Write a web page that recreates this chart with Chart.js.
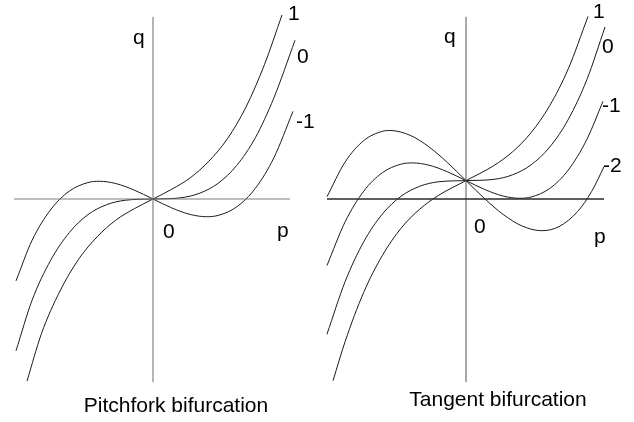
<!DOCTYPE html>
<html>
<head>
<meta charset="utf-8">
<script src="https://cdn.jsdelivr.net/npm/chart.js@4.4.0/dist/chart.umd.min.js"></script>
<style>
  html, body { margin: 0; padding: 0; background: #fff; }
  #wrap { position: relative; width: 634px; height: 422px; }
  .panel { position: absolute; top: 0; width: 317px; height: 422px; }
</style>
</head>
<body>
<div id="wrap">
  <div class="panel" style="left:0"><canvas id="pitchfork" width="317" height="422"></canvas></div>
  <div class="panel" style="left:317px"><canvas id="tangent" width="317" height="422"></canvas></div>
</div>
<script>
// ---- Pitchfork panel: q against p for parameter 1, 0, -1 ----
const pitchP1 = [-1.355, -1.2, -1.0, -0.8, -0.6, -0.4, -0.2, 0, 0.2, 0.4, 0.6, 0.8, 1.0, 1.2, 1.387];
const pitchQ1 = [-3.96, -2.93, -2.0, -1.31, -0.82, -0.46, -0.21, 0, 0.21, 0.46, 0.82, 1.31, 2.0, 2.93, 4.0];

const pitchP0 = [-1.473, -1.3, -1.1, -0.9, -0.7, -0.5, -0.3, 0, 0.3, 0.5, 0.7, 0.9, 1.1, 1.3, 1.527];
const pitchQ0 = [-3.3, -2.2, -1.33, -0.73, -0.34, -0.125, -0.027, 0, 0.027, 0.125, 0.34, 0.73, 1.33, 2.2, 3.45];

const pitchPm1 = [-1.473, -1.3, -1.1, -0.9, -0.7, -0.577, -0.4, -0.2, 0, 0.2, 0.4, 0.577, 0.7, 0.9, 1.1, 1.3, 1.505];
const pitchQm1 = [-1.78, -0.897, -0.231, 0.171, 0.357, 0.385, 0.336, 0.192, 0, -0.192, -0.336, -0.385, -0.357, -0.171, 0.231, 0.897, 1.904];

const pitchAxisP = [-1.495, 1.473];
const pitchAxisQ = [-3.98, 3.96];

// ---- Tangent panel: parameter 1, 0, -1, -2 ----
const tanP1 = [-1.43, -1.3, -1.1, -0.9, -0.7, -0.5, -0.3, 0, 0.3, 0.5, 0.7, 0.9, 1.1, 1.312];
const tanQ1 = [-3.95, -3.1, -2.03, -1.23, -0.64, -0.225, 0.073, 0.4, 0.727, 1.025, 1.443, 2.029, 2.831, 3.97];

const tanP0 = [-1.495, -1.3, -1.1, -0.9, -0.7, -0.5, -0.3, 0, 0.3, 0.5, 0.7, 0.9, 1.1, 1.3, 1.495];
const tanQ0 = [-2.94, -1.797, -0.931, -0.329, 0.057, 0.275, 0.373, 0.4, 0.427, 0.525, 0.743, 1.129, 1.731, 2.597, 3.74];

const tanPm1 = [-1.495, -1.3, -1.1, -0.9, -0.7, -0.577, -0.4, -0.2, 0, 0.2, 0.4, 0.577, 0.7, 0.9, 1.1, 1.3, 1.473];
const tanQm1 = [-1.446, -0.497, 0.169, 0.571, 0.757, 0.785, 0.736, 0.592, 0.4, 0.208, 0.064, 0.015, 0.043, 0.229, 0.631, 1.297, 2.123];

const tanPm2 = [-1.495, -1.3, -1.1, -0.9, -0.816, -0.6, -0.4, -0.2, 0, 0.2, 0.4, 0.6, 0.816, 1.0, 1.2, 1.35, 1.484];
const tanQm2 = [0.049, 0.803, 1.269, 1.471, 1.489, 1.384, 1.136, 0.792, 0.4, 0.008, -0.336, -0.584, -0.689, -0.6, -0.272, 0.16, 0.7];

const tanAxisP = [-1.495, 1.484];
const tanAxisQ = [-3.98, 3.96];

const FONT = '21px "Liberation Sans", Arial, sans-serif';

function pts(ps, qs) {
  return ps.map((p, i) => ({ x: p, y: qs[i] }));
}

function curve(ps, qs) {
  return {
    data: pts(ps, qs),
    borderColor: '#1a1a1a',
    borderWidth: 1,
    cubicInterpolationMode: 'monotone',
    pointRadius: 0,
    showLine: true
  };
}

function axisLine(points, color, width) {
  return {
    data: points,
    borderColor: color,
    borderWidth: width,
    pointRadius: 0,
    showLine: true,
    tension: 0
  };
}

// Draws curve tags, axis names and the caption under each panel
const figureText = {
  id: 'figureText',
  afterDatasetsDraw(chart, args, opts) {
    const { ctx, scales } = chart;
    ctx.save();
    ctx.fillStyle = '#000';
    ctx.font = FONT;
    ctx.textAlign = 'left';
    ctx.textBaseline = 'alphabetic';
    opts.labels.forEach(l => {
      ctx.fillText(l.text, scales.x.getPixelForValue(l.p), scales.y.getPixelForValue(l.q));
    });
    ctx.textAlign = 'center';
    ctx.fillText(opts.caption.text, opts.caption.x, opts.caption.y);
    ctx.restore();
  }
};

function makePanel(id, datasets, xRange, labels, caption) {
  return new Chart(document.getElementById(id), {
    type: 'scatter',
    data: { datasets },
    options: {
      responsive: false,
      animation: false,
      layout: { padding: 0 },
      scales: {
        x: { type: 'linear', display: false, min: xRange[0], max: xRange[1] },
        y: { type: 'linear', display: false, min: -4.8478, max: 4.3261 }
      },
      plugins: {
        legend: { display: false },
        tooltip: { enabled: false },
        figureText: { labels, caption }
      }
    },
    plugins: [figureText]
  });
}

makePanel('pitchfork', [
  axisLine([{ x: pitchAxisP[0], y: 0 }, { x: pitchAxisP[1], y: 0 }], '#7a7a7a', 1),
  axisLine([{ x: 0, y: pitchAxisQ[0] }, { x: 0, y: pitchAxisQ[1] }], '#6a6a6a', 1),
  curve(pitchP1, pitchQ1),
  curve(pitchP0, pitchQ0),
  curve(pitchPm1, pitchQm1)
], [-1.6452, 1.7634], [
  { text: 'q', p: -0.215, q: 3.37 },
  { text: '0', p: 0.108, q: -0.848 },
  { text: 'p', p: 1.333, q: -0.826 },
  { text: '1', p: 1.452, q: 3.89 },
  { text: '0', p: 1.548, q: 2.957 },
  { text: '-1', p: 1.538, q: 1.543 }
], { text: 'Pitchfork bifurcation', x: 176, y: 412 });

makePanel('tangent', [
  axisLine([{ x: tanAxisP[0], y: 0 }, { x: tanAxisP[1], y: 0 }], '#2a2a2a', 1.5),
  axisLine([{ x: 0, y: tanAxisQ[0] }, { x: 0, y: tanAxisQ[1] }], '#555', 1),
  curve(tanP1, tanQ1),
  curve(tanP0, tanQ0),
  curve(tanPm1, tanQm1),
  curve(tanPm2, tanQm2)
], [-1.6022, 1.8065], [
  { text: 'q', p: -0.237, q: 3.39 },
  { text: '0', p: 0.086, q: -0.739 },
  { text: 'p', p: 1.376, q: -0.957 },
  { text: '1', p: 1.366, q: 3.935 },
  { text: '0', p: 1.462, q: 3.174 },
  { text: '-1', p: 1.462, q: 1.891 },
  { text: '-2', p: 1.473, q: 0.587 }
], { text: 'Tangent bifurcation', x: 181, y: 406 });
</script>
</body>
</html>
